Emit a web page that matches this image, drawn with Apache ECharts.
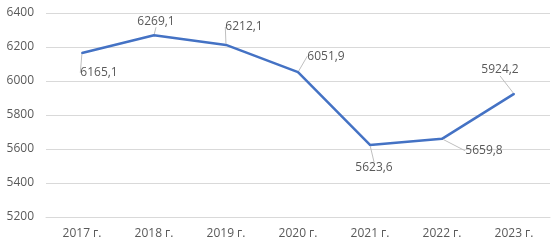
<!DOCTYPE html>
<html>
<head>
<meta charset="utf-8">
<style>
  html, body { margin: 0; padding: 0; background: #fff; }
  #chart { width: 557px; height: 249px; }
</style>
<script src="https://cdn.jsdelivr.net/npm/echarts@6/dist/echarts.min.js"></script>
</head>
<body>
<div id="chart"></div>
<script>
    'use strict';

    var years = ['2017 г.', '2018 г.', '2019 г.', '2020 г.', '2021 г.', '2022 г.', '2023 г.'];
    var values = [6165.1, 6269.1, 6212.1, 6051.9, 5623.6, 5659.8, 5924.2];
    var yTicks = [5200, 5400, 5600, 5800, 6000, 6200, 6400];

    // offsets of each value label from its point (excel-like placement)
    var labelShift = [[17, 20], [2, -14], [18, -18], [28, -16], [4, 23], [42, 12], [-14, -24]];

    var textColor = '#595959';
    var fontFamily = 'Open Sans, Lato, sans-serif';

    var chart = echarts.init(document.getElementById('chart'));

    var option = {
        animation: false,
        grid: {
            left: 46,
            right: 7,
            top: 13,
            bottom: 32
        },
        xAxis: {
            type: 'category',
            data: years,
            boundaryGap: true,
            axisLine: { show: true, lineStyle: { color: '#d9d9d9', width: 1 } },
            axisTick: { show: false },
            axisLabel: { color: textColor, fontSize: 12, fontFamily: fontFamily, margin: 11 }
        },
        yAxis: {
            type: 'value',
            min: yTicks[0],
            max: yTicks[yTicks.length - 1],
            interval: 200,
            axisLine: { show: false },
            axisTick: { show: false },
            splitLine: { lineStyle: { color: '#d9d9d9', width: 1 } },
            axisLabel: {
                color: textColor,
                fontSize: 12,
                fontFamily: fontFamily,
                margin: 12,
                formatter: function (v) { return String(v); }
            }
        },
        series: [{
            type: 'line',
            data: values,
            symbol: 'circle',
            symbolSize: 2,
            showSymbol: true,
            lineStyle: { color: '#4472c4', width: 2.5 },
            itemStyle: { color: '#4472c4' },
            label: {
                show: true,
                position: 'inside',
                color: textColor,
                fontSize: 12,
                fontFamily: fontFamily,
                formatter: function (p) {
                    return p.value.toFixed(1).replace('.', ',');
                }
            },
            labelLine: {
                show: true,
                lineStyle: { color: '#bfbfbf', width: 1 }
            },
            labelLayout: function (params) {
                var s = labelShift[params.dataIndex];
                return { dx: s[0], dy: s[1] };
            }
        }]
    };

    chart.setOption(option);
</script>
</body>
</html>
